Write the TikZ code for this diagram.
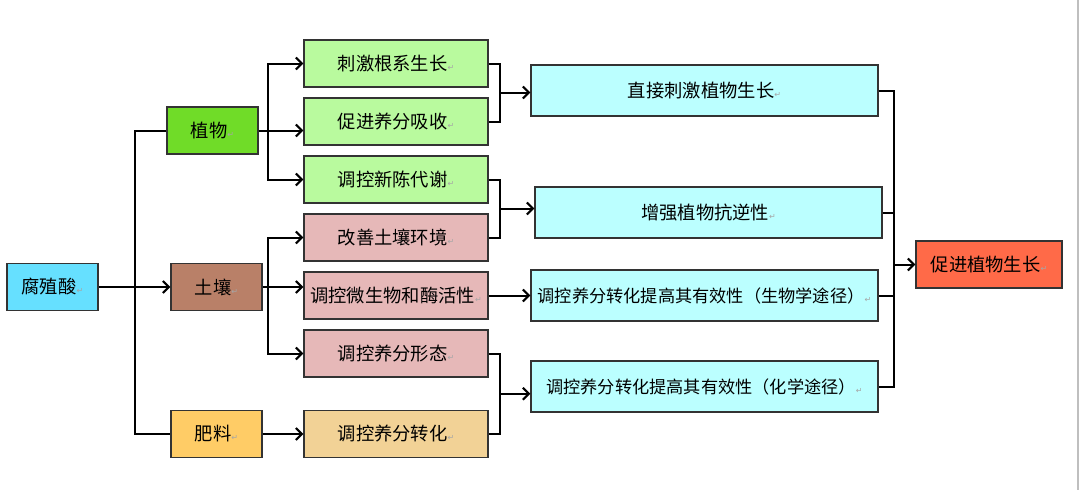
\documentclass[tikz,border=0pt]{standalone}
\usepackage{fontspec}
\newfontfamily\cjk{Noto Sans CJK SC}
\newfontfamily\markfont{DejaVu Sans}
\usetikzlibrary{arrows.meta}
% paragraph mark as printed after each text
\newcommand{\pmark}{{\markfont\fontsize{8}{8}\selectfont\color{gray!70}↵}}
\definecolor{acidblue}{HTML}{66E0FF}
\definecolor{plantgreen}{HTML}{70DC28}
\definecolor{soilbrown}{HTML}{B98068}
\definecolor{fertyellow}{HTML}{FFCC66}
\definecolor{lightgreen}{HTML}{B9FA9E}
\definecolor{lightpink}{HTML}{E6B8B8}
\definecolor{lighttan}{HTML}{F2D296}
\definecolor{lightcyan}{HTML}{BBFFFF}
\definecolor{resultred}{HTML}{FF6A48}
\begin{document}
\begin{tikzpicture}[x=1pt,y=-1pt,
  box/.style={draw=black!80, line width=1.4pt, inner sep=0pt,
    font=\cjk\fontsize{18.3}{20}\selectfont},
  small/.style={box, minimum width=91pt, minimum height=47pt},
  mid/.style={box, minimum width=184pt, minimum height=47pt},
  wide/.style={box, fill=lightcyan, minimum width=347pt, minimum height=51pt},
  long/.style={wide, font=\cjk\fontsize{17.2}{20}\selectfont},
  link/.style={line width=2pt},
  arr/.style={link, -{Straight Barb[length=6pt,width=12pt,line width=2pt]}}]
\useasboundingbox (0,0) rectangle (1080,490);
\fill[white] (0,0) rectangle (1080,490);
\draw[gray!50, line width=2pt] (1078,0) -- (1078,490);
% Draw source and carriers
\node[small, fill=acidblue] (fa) at (52.5,287) {腐殖酸\pmark};
\node[small, fill=plantgreen] (zw) at (212.5,130.5) {植物\pmark};
\node[small, fill=soilbrown] (tr) at (216.5,287) {土壤\pmark};
\node[small, fill=fertyellow] (fl) at (216.5,434) {肥料\pmark};
% Draw effects
\node[mid, fill=lightgreen] (cj) at (396,63.5) {刺激根系生长\pmark};
\node[mid, fill=lightgreen] (xs) at (396,121.5) {促进养分吸收\pmark};
\node[mid, fill=lightgreen] (xd) at (396,179.5) {调控新陈代谢\pmark};
\node[mid, fill=lightpink] (gs) at (396,237.5) {改善土壤环境\pmark};
\node[mid, fill=lightpink] (wm) at (396,295.5) {调控微生物和酶活性\pmark};
\node[mid, fill=lightpink] (xt) at (396,353.5) {调控养分形态\pmark};
\node[mid, fill=lighttan] (zh) at (396,434) {调控养分转化\pmark};
% Draw mechanisms
\node[wide] (zj) at (704.5,90.5) {直接刺激植物生长\pmark};
\node[wide] (ky) at (708.5,212.5) {增强植物抗逆性\pmark};
\node[long] (sw) at (704.5,295.5) {调控养分转化提高其有效性（生物学途径）\pmark};
\node[long] (hx) at (704.5,386.5) {调控养分转化提高其有效性（化学途径）\pmark};
% Draw result
\node[small, fill=resultred, minimum width=146pt] (cz) at (989,264.5) {促进植物生长\pmark};
% Junction points
\coordinate (tk) at (135,287);
\coordinate (b1) at (268,0);
\coordinate (k1) at (500,92.5);
\coordinate (k2) at (500,208.5);
\coordinate (k3) at (500,393.75);
\coordinate (k4) at (894,264.5);
% Draw trunk
\draw[arr] (fa.east) -- (tr.west);
\draw[link] (zw.west) -- (zw.west -| tk) -- (fl.west -| tk) -- (fl.west);
% Draw branches
\draw[arr] (zw.east) -- (zw.east -| xs.west);
\draw[arr] (zw.east -| b1) |- (cj.west);
\draw[arr] (zw.east -| b1) |- (xd.west);
\draw[arr] (tr.east) -- (tr.east -| wm.west);
\draw[arr] (tr.east -| b1) |- (gs.west);
\draw[arr] (tr.east -| b1) |- (xt.west);
\draw[arr] (fl.east) -- (zh.west);
% Draw brackets to mechanisms
\draw[link] (cj.east) -| (k1) |- (xs.east);
\draw[arr] (k1) -- (k1 -| zj.west);
\draw[link] (xd.east) -| (k2) |- (gs.east);
\draw[arr] (k2) -- (k2 -| ky.west);
\draw[arr] (wm.east) -- (sw.west);
\draw[link] (xt.east) -| (k3) |- (zh.east);
\draw[arr] (k3) -- (k3 -| hx.west);
% Draw bracket to result
\draw[link] (zj.east) -| (k4) |- (hx.east);
\draw[link] (ky.east) -- (ky.east -| k4);
\draw[link] (sw.east) -- (sw.east -| k4);
\draw[arr] (k4) -- (cz.west);
\end{tikzpicture}
\end{document}
